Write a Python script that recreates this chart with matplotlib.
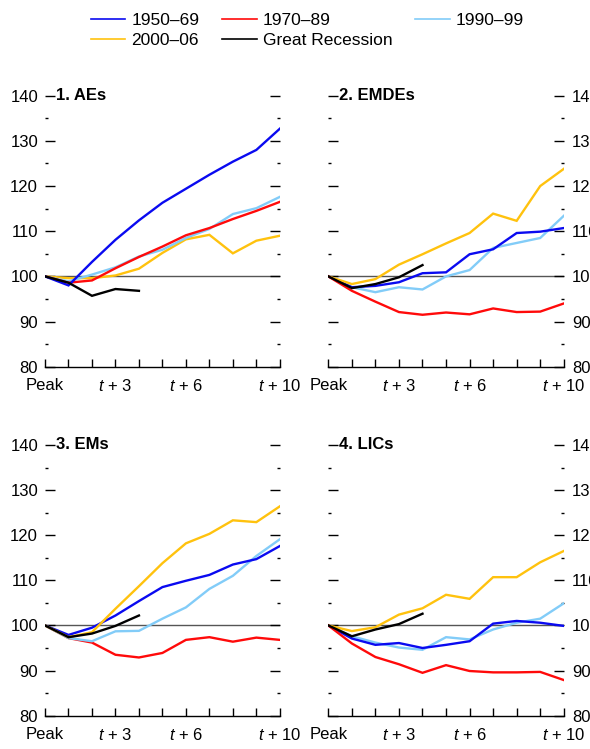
import matplotlib
matplotlib.use("Agg")
import matplotlib.pyplot as plt
from matplotlib.ticker import MultipleLocator

plt.rcParams["font.family"] = ["Liberation Sans", "DejaVu Sans"]
plt.rcParams["mathtext.fontset"] = "custom"
plt.rcParams["mathtext.it"] = "Liberation Sans:italic"
plt.rcParams["mathtext.rm"] = "Liberation Sans"

# years after the peak (Peak = 0)
steps = list(range(11))
gr_steps = list(range(5))  # Great Recession: only 4 years of data
tick_pos = [0, 3, 6, 10]
tick_labels = ["Peak", "$t$ + 3", "$t$ + 6", "$t$ + 10"]

series_names = ["1950\u201369", "1970\u201389", "1990\u201399", "2000\u201306", "Great Recession"]
series_colors = ["#0A0AF0", "#FF0A0A", "#82CCF8", "#FFC20E", "#000000"]

panel_titles = ["1. AEs", "2. EMDEs", "3. EMs", "4. LICs"]

# AEs
aes_5069 = [100, 98.0, 103.2, 108.1, 112.4, 116.3, 119.4, 122.5, 125.4, 128.0, 132.7]
aes_7089 = [100, 98.6, 99.1, 101.8, 104.3, 106.6, 109.1, 110.7, 112.7, 114.5, 116.5]
aes_9099 = [100, 98.9, 100.4, 102.0, 104.4, 105.9, 108.5, 110.5, 113.8, 115.1, 117.6]
aes_0006 = [100, 99.6, 99.6, 100.2, 101.7, 105.2, 108.2, 109.2, 105.1, 107.9, 109.0]
aes_gr = [100, 98.6, 95.7, 97.2, 96.8]

# EMDEs
emde_5069 = [100, 97.6, 97.9, 98.7, 100.7, 100.9, 104.9, 106.0, 109.6, 109.9, 110.7]
emde_7089 = [100, 96.8, 94.4, 92.1, 91.5, 92.0, 91.6, 92.9, 92.1, 92.2, 94.0]
emde_9099 = [100, 97.6, 96.5, 97.6, 97.1, 100.0, 101.4, 106.3, 107.4, 108.5, 113.4]
emde_0006 = [100, 98.3, 99.4, 102.6, 104.9, 107.3, 109.6, 113.9, 112.3, 120.0, 123.8]
emde_gr = [100, 97.4, 98.3, 99.8, 102.5]

# EMs
ems_5069 = [100, 97.9, 99.5, 102.2, 105.4, 108.5, 109.9, 111.2, 113.5, 114.7, 117.6]
ems_7089 = [100, 97.2, 96.2, 93.5, 92.9, 93.9, 96.8, 97.4, 96.4, 97.3, 96.8]
ems_9099 = [100, 97.2, 96.5, 98.7, 98.8, 101.5, 104.0, 108.1, 111.0, 115.4, 119.1]
ems_0006 = [100, 97.4, 98.5, 103.7, 108.7, 113.8, 118.2, 120.3, 123.3, 122.9, 126.4]
ems_gr = [100, 97.4, 98.2, 99.9, 102.2]

# LICs
lic_5069 = [100, 97.1, 95.7, 96.1, 95.0, 95.7, 96.5, 100.4, 101.0, 100.6, 99.9]
lic_7089 = [100, 96.0, 93.0, 91.4, 89.5, 91.2, 89.9, 89.6, 89.6, 89.7, 87.9]
lic_9099 = [100, 97.6, 96.2, 95.1, 94.6, 97.4, 96.9, 99.1, 100.6, 101.5, 104.9]
lic_0006 = [100, 98.75, 99.6, 102.4, 103.8, 106.8, 105.9, 110.7, 110.7, 114.0, 116.5]
lic_gr = [100, 97.6, 99.1, 100.3, 102.6]

panel_data = [
    [aes_5069, aes_7089, aes_9099, aes_0006, aes_gr],
    [emde_5069, emde_7089, emde_9099, emde_0006, emde_gr],
    [ems_5069, ems_7089, ems_9099, ems_0006, ems_gr],
    [lic_5069, lic_7089, lic_9099, lic_0006, lic_gr],
]

# draw order per panel: later series on top
draw_order = {
    0: [3, 2, 1, 0, 4],
    1: [2, 0, 3, 1, 4],
    2: [1, 2, 0, 3, 4],
    3: [2, 0, 3, 1, 4],
}

fig = plt.figure(figsize=(5.9, 7.49), dpi=100)

# axes boxes [left, bottom, width, height]
boxes = [
    [0.0763, 0.5104, 0.398, 0.3618],
    [0.5565, 0.5104, 0.399, 0.3618],
    [0.0763, 0.0445, 0.398, 0.3614],
    [0.5565, 0.0445, 0.399, 0.3614],
]

handles = {}
for p in range(4):
    ax = fig.add_axes(boxes[p])
    ax.set_xlim(0, 10)
    ax.set_ylim(80, 140)
    for side in ["left", "right", "top"]:
        ax.spines[side].set_visible(False)
    ax.spines["bottom"].set_linewidth(1.0)

    ax.axhline(100, color="#555555", linewidth=1.0, zorder=1)

    for k in draw_order[p]:
        ys = panel_data[p][k]
        xs = gr_steps if k == 4 else steps
        ln, = ax.plot(xs, ys, color=series_colors[k], linewidth=1.7,
                      solid_joinstyle="miter", zorder=2 + draw_order[p].index(k))
        handles[k] = ln

    # x axis: tick at every year, labels only at a few
    ax.set_xticks(steps)
    ax.set_xticklabels([tick_labels[tick_pos.index(s)] if s in tick_pos else "" for s in steps])
    ax.tick_params(axis="x", direction="in", length=6, width=1, labelsize=12, pad=8)

    # y axis: ticks on both sides, labels on the outer side
    ax.yaxis.set_major_locator(MultipleLocator(10))
    ax.yaxis.set_minor_locator(MultipleLocator(5))
    left_col = p in (0, 2)
    ax.tick_params(axis="y", which="major", direction="in", length=7, width=1,
                   left=True, right=True, labelleft=left_col, labelright=not left_col,
                   labelsize=12)
    ax.tick_params(axis="y", which="major", pad=5 if left_col else 6)
    ax.tick_params(axis="y", which="minor", direction="in", length=2.5, width=1,
                   left=True, right=True)
    for lbl in ax.get_xticklabels() + ax.get_yticklabels():
        lbl.set_clip_on(False)

    ax.text(0.047, 140, panel_titles[p], transform=ax.get_yaxis_transform(),
            fontsize=12, fontweight="bold", va="center", ha="left")

# legend fills row by row: 1950-69, 1970-89, 1990-99 / 2000-06, Great Recession
leg_order = [0, 3, 1, 4, 2]
leg = fig.legend([handles[k] for k in leg_order], [series_names[k] for k in leg_order],
                 loc="upper left", bbox_to_anchor=(0.142, 0.992), ncol=3,
                 frameon=False, fontsize=12.5, handlelength=2.0,
                 handletextpad=0.35, columnspacing=1.3, labelspacing=0.25,
                 borderaxespad=0.0)
for ln in leg.get_lines():
    ln.set_linewidth(1.2)

fig.savefig("out.png", dpi=100)
